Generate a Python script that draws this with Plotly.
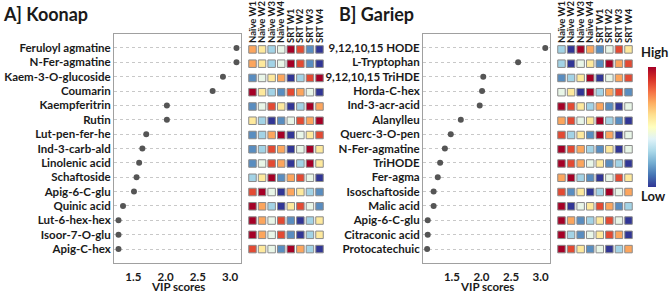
import plotly.graph_objects as go

W, H = 669, 293

columns = ["Naïve W1", "Naïve W2", "Naïve W3", "Naïve W4", "SRT W1", "SRT W2", "SRT W3", "SRT W4"]

koonap_names = ["Feruloyl agmatine", "N-Fer-agmatine", "Kaem-3-O-glucoside", "Coumarin", "Kaempferitrin",
                "Rutin", "Lut-pen-fer-he", "Ind-3-carb-ald", "Linolenic acid", "Schaftoside",
                "Apig-6-C-glu", "Quinic acid", "Lut-6-hex-hex", "Isoor-7-O-glu", "Apig-C-hex"]
koonap_vip = [3.10, 3.10, 2.89, 2.73, 2.02, 2.02, 1.70, 1.64, 1.59, 1.55, 1.51, 1.34, 1.27, 1.27, 1.27]
koonap_heat = [
    [6, 5, 3, 4, 8, 7, 2, 1],
    [6, 5, 3, 4, 8, 7, 2, 1],
    [2, 4, 5, 6, 1, 3, 7, 8],
    [8, 5, 3, 2, 7, 6, 4, 1],
    [2, 4, 7, 5, 1, 3, 8, 6],
    [5, 3, 1, 2, 4, 7, 6, 8],
    [2, 3, 6, 8, 1, 4, 5, 7],
    [2, 3, 7, 6, 1, 4, 8, 5],
    [2, 4, 7, 6, 1, 3, 8, 5],
    [3, 5, 8, 2, 6, 7, 4, 1],
    [7, 8, 4, 1, 6, 5, 3, 2],
    [8, 6, 3, 1, 5, 7, 4, 2],
    [8, 6, 4, 7, 2, 1, 3, 5],
    [8, 6, 4, 7, 2, 1, 3, 5],
    [7, 5, 4, 2, 8, 6, 3, 1],
]

gariep_names = ["9,12,10,15 HODE", "L-Tryptophan", "9,12,10,15 TriHDE", "Horda-C-hex", "Ind-3-acr-acid",
                "Alanylleu", "Querc-3-O-pen", "N-Fer-agmatine", "TriHODE", "Fer-agma",
                "Isoschaftoside", "Malic acid", "Apig-6-C-glu", "Citraconic acid", "Protocatechuic"]
gariep_vip = [3.08, 2.62, 2.03, 2.01, 1.97, 1.65, 1.48, 1.38, 1.30, 1.26, 1.19, 1.19, 1.09, 1.09, 1.08]
gariep_heat = [
    [3, 1, 8, 6, 2, 4, 7, 5],
    [3, 1, 4, 5, 2, 8, 6, 7],
    [2, 3, 5, 8, 1, 4, 6, 7],
    [4, 5, 1, 8, 3, 6, 7, 2],
    [8, 7, 5, 3, 6, 2, 1, 4],
    [6, 7, 4, 5, 8, 3, 2, 1],
    [7, 3, 5, 2, 8, 6, 1, 4],
    [8, 7, 6, 3, 2, 5, 1, 4],
    [8, 7, 6, 4, 5, 2, 3, 1],
    [6, 8, 3, 2, 1, 4, 7, 5],
    [7, 2, 5, 1, 3, 8, 4, 6],
    [8, 1, 4, 5, 7, 6, 2, 3],
    [8, 6, 2, 3, 5, 7, 4, 1],
    [8, 3, 2, 4, 5, 7, 6, 1],
    [8, 7, 5, 2, 4, 1, 3, 6],
]

FONT = "Lato"
DARK = "#1a1a1a"


def fx(x):
    return x / W


def fy(y):
    return 1 - y / H


def bold(size):
    return dict(family=FONT, size=size, color=DARK, weight="bold")


fig = go.Figure()

panels = [
    dict(names=koonap_names, vip=koonap_vip, heat=koonap_heat, fx0=114, fx1=241, hx0=247.7, hx1=324.3,
         xr=[1.2, 3.17]),
    dict(names=gariep_names, vip=gariep_vip, heat=gariep_heat, fx0=423, fx1=550, hx0=556.7, hx1=633.3,
         xr=[1.01, 3.16]),
]

layout = {}
annotations = []
for i, p in enumerate(panels):
    ax_d = 2 * i + 1
    ax_h = 2 * i + 2
    xd = "x" if ax_d == 1 else f"x{ax_d}"
    yd = "y" if ax_d == 1 else f"y{ax_d}"
    xh, yh = f"x{ax_h}", f"y{ax_h}"
    nrow = len(p["names"])

    fig.add_trace(go.Scatter(
        x=p["vip"], y=p["names"], mode="markers",
        marker=dict(color="#555555", size=6),
        xaxis=xd, yaxis=yd, showlegend=False, hoverinfo="x+y"))

    hx, hy, hz = [], [], []
    for r, name in enumerate(p["names"]):
        for c, col in enumerate(columns):
            hx.append(col)
            hy.append(name)
            hz.append(p["heat"][r][c])
    marker = dict(symbol="square", size=7.5, color=hz, colorscale="RdYlBu_r", cmin=1, cmax=8,
                  line=dict(color="#8a8a8a", width=1))
    if i == 1:
        marker.update(showscale=True, colorbar=dict(
            x=fx(648), xanchor="left", y=fy(127), yanchor="middle", xpad=0, ypad=0,
            len=120 / H, lenmode="fraction", thickness=8, outlinewidth=0,
            showticklabels=False, ticks=""))
    fig.add_trace(go.Scatter(
        x=hx, y=hy, mode="markers", marker=marker,
        xaxis=xh, yaxis=yh, showlegend=False, hoverinfo="x+y"))

    layout["xaxis" if ax_d == 1 else f"xaxis{ax_d}"] = dict(
        domain=[fx(p["fx0"]), fx(p["fx1"])], anchor=yd, range=p["xr"],
        tickmode="array", tickvals=[1.5, 2.0, 2.5, 3.0], ticktext=["1.5", "2.0", "2.5", "3.0"],
        showgrid=False, zeroline=False, showline=True, mirror=True, linecolor="#a0a0a0", linewidth=1,
        ticks="", ticklabelstandoff=3, tickfont=bold(11.5), automargin=False)
    layout["yaxis" if ax_d == 1 else f"yaxis{ax_d}"] = dict(
        domain=[fy(262.7), fy(34.3)], anchor=xd, type="category", categoryarray=p["names"],
        tickmode="array", tickvals=p["names"],
        range=[nrow - 1 + 0.95, -0.95], showgrid=True, griddash="dot", gridcolor="#c8c8c8", gridwidth=1,
        zeroline=False, showline=True, mirror=True, linecolor="#a0a0a0", linewidth=1,
        ticks="", tickfont=bold(11.5), automargin=False)
    layout[f"xaxis{ax_h}"] = dict(
        domain=[fx(p["hx0"]), fx(p["hx1"])], anchor=yh, type="category", categoryarray=columns,
        tickmode="array", tickvals=columns,
        range=[-0.5, 7.5], side="top", tickangle=-90, showgrid=False, zeroline=False, showline=False,
        ticks="", tickfont=bold(9.5), automargin=False)
    layout[f"yaxis{ax_h}"] = dict(
        domain=[fy(254.5), fy(44)], anchor=xh, type="category", categoryarray=p["names"],
        range=[nrow - 1 + 0.38, -0.38], showgrid=False, zeroline=False, showline=False,
        showticklabels=False, ticks="", automargin=False)
    annotations.append(dict(text="VIP scores", x=fx((p["fx0"] + p["fx1"]) / 2), y=fy(286.5),
                            xref="paper", yref="paper", xanchor="center", yanchor="middle",
                            showarrow=False, font=bold(11.5)))

annotations += [
    dict(text="A] Koonap", x=fx(1), y=fy(14), xref="paper", yref="paper", xanchor="left", yanchor="middle",
         showarrow=False, font=bold(18)),
    dict(text="B] Gariep", x=fx(337), y=fy(14), xref="paper", yref="paper", xanchor="left", yanchor="middle",
         showarrow=False, font=bold(18)),
    dict(text="High", x=fx(654), y=fy(52), xref="paper", yref="paper", xanchor="center", yanchor="middle",
         showarrow=False, font=bold(13)),
    dict(text="Low", x=fx(653), y=fy(196), xref="paper", yref="paper", xanchor="center", yanchor="middle",
         showarrow=False, font=bold(13)),
]

fig.update_layout(**layout)
fig.update_layout(
    width=W, height=H, margin=dict(l=0, r=0, t=0, b=0, autoexpand=False),
    paper_bgcolor="white", plot_bgcolor="white",
    font=dict(family=FONT, color=DARK),
    annotations=annotations,
)

fig.write_html("out.html", config={"displayModeBar": False},
               post_script="document.body.style.margin='0';")
